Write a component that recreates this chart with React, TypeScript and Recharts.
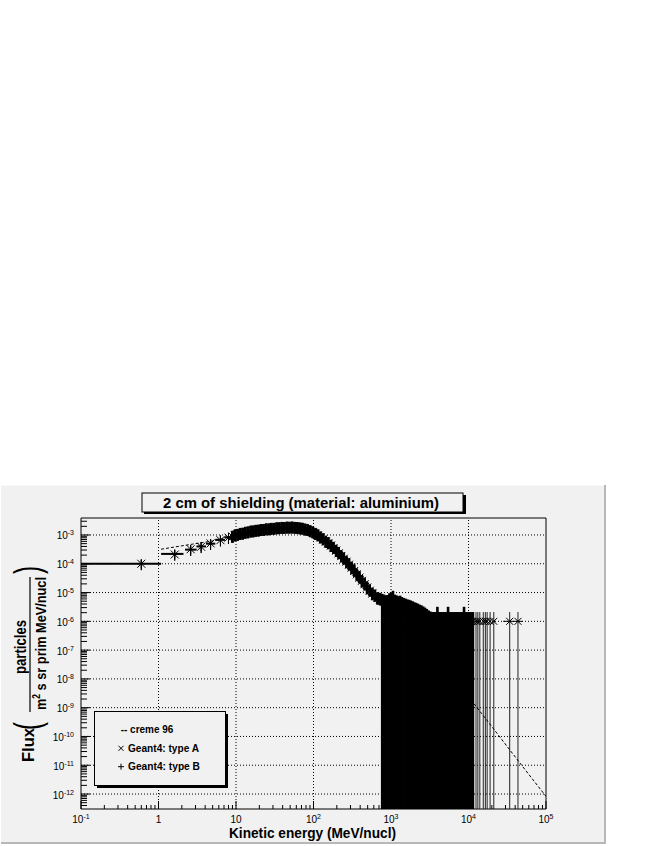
import React from 'react';
import { ComposedChart, Scatter, Line, XAxis, YAxis, ErrorBar, ReferenceLine, ReferenceArea } from 'recharts';

const FONT = "'Liberation Sans', Arial, Helvetica, sans-serif";
const PANEL = '#f1f1f1';

// axis ranges
const X_MIN = 0.1;
const X_MAX = 1e5;
const Y_MIN = Math.pow(10, -12.52);
const Y_MAX = Math.pow(10, -2.41);

const xDecades = [-1, 0, 1, 2, 3, 4, 5];
const yDecades = [-12, -11, -10, -9, -8, -7, -6, -5, -4, -3];

// first wide bins (MeV/nucl): centre, bin edges, flux
const lowE = [0.6, 1.62, 2.6, 3.55, 4.7, 6.3, 8.0];
const lowLo = [0.1, 1.08, 2.2, 3.1, 4.1, 5.4, 7.2];
const lowHi = [1.08, 2.1, 3.1, 4.1, 5.4, 7.2, 8.6];
const lowFluxA = [1.0e-4, 2.1e-4, 3.2e-4, 3.9e-4, 5.1e-4, 6.6e-4, 8.1e-4];
const lowFluxB = [1.0e-4, 2.2e-4, 3.1e-4, 4.0e-4, 5.0e-4, 6.8e-4, 8.3e-4];
const LOW_ERR = 0.4;

// dense part of the spectrum
const bandE = [
  9, 9.7, 10.5, 11.3, 12.2, 13.2, 14.3, 15.5, 16.7, 18, 19.5, 21, 22.7, 24.5, 26.5, 28.6, 30.9, 33.4, 36, 38.9,
  42, 45.4, 49, 53, 57.2, 61.8, 66.7, 72, 77.8, 84, 90.7, 98, 106, 114, 123, 133, 144, 155, 168, 181,
  196, 211, 228, 246, 266, 287, 310, 335, 362, 391, 422, 456, 492, 532, 574, 620, 670, 723,
];
const bandFluxA = [
  8.8e-4, 9.5e-4, 1.02e-3, 1.07e-3, 1.12e-3, 1.18e-3, 1.24e-3, 1.3e-3, 1.34e-3, 1.38e-3, 1.43e-3, 1.47e-3, 1.51e-3, 1.55e-3, 1.58e-3, 1.62e-3, 1.65e-3, 1.69e-3, 1.72e-3, 1.75e-3,
  1.77e-3, 1.79e-3, 1.8e-3, 1.8e-3, 1.78e-3, 1.75e-3, 1.7e-3, 1.64e-3, 1.56e-3, 1.47e-3, 1.36e-3, 1.22e-3, 1.1e-3, 9.6e-4, 8.3e-4, 7.0e-4, 5.9e-4, 5.1e-4, 4.3e-4, 3.5e-4,
  2.85e-4, 2.3e-4, 1.85e-4, 1.5e-4, 1.18e-4, 9.3e-5, 7.3e-5, 5.6e-5, 4.3e-5, 3.3e-5, 2.55e-5, 1.95e-5, 1.5e-5, 1.15e-5, 9.2e-6, 7.6e-6, 6.5e-6, 5.7e-6,
];
const bandFluxB = [
  8.5e-4, 9.8e-4, 1.0e-3, 1.1e-3, 1.1e-3, 1.21e-3, 1.22e-3, 1.33e-3, 1.32e-3, 1.41e-3, 1.41e-3, 1.5e-3, 1.49e-3, 1.58e-3, 1.56e-3, 1.65e-3, 1.63e-3, 1.72e-3, 1.7e-3, 1.78e-3,
  1.75e-3, 1.82e-3, 1.78e-3, 1.83e-3, 1.76e-3, 1.77e-3, 1.68e-3, 1.66e-3, 1.53e-3, 1.49e-3, 1.33e-3, 1.24e-3, 1.07e-3, 9.8e-4, 8.1e-4, 7.2e-4, 5.7e-4, 5.3e-4, 4.1e-4, 3.6e-4,
  2.75e-4, 2.4e-4, 1.78e-4, 1.55e-4, 1.12e-4, 9.7e-5, 6.9e-5, 5.9e-5, 4.0e-5, 3.5e-5, 2.4e-5, 2.05e-5, 1.4e-5, 1.2e-5, 8.6e-6, 8.0e-6, 6.0e-6, 6.1e-6,
];
// multiplicative size of the band error bars
const BAND_ERR = 1.6;

// low-statistics tail: flux and top of the error bar (bottom reaches zero)
const tailE = [
  770, 815, 860, 905, 955, 1005, 1060, 1120, 1180, 1245, 1310, 1380, 1455, 1535, 1620, 1710, 1800, 1900, 2000, 2110,
  2225, 2345, 2470, 2605, 2745, 2895, 3050, 3215, 3390, 3575, 3770, 3970, 4190, 4415, 4650, 4905, 5170, 5450, 5745, 6055,
  6380, 6730, 7090, 7475, 7880, 8310, 8760, 9230, 9730, 10260, 10820, 11400,
];
const tailFlux = [
  5.0e-6, 4.6e-6, 4.3e-6, 4.4e-6, 5.0e-6, 5.3e-6, 5.6e-6, 4.5e-6, 4.2e-6, 4.0e-6, 4.1e-6, 3.7e-6, 3.4e-6, 3.2e-6, 3.0e-6, 2.9e-6, 2.8e-6, 2.6e-6, 2.4e-6, 2.3e-6,
  2.1e-6, 2.0e-6, 1.9e-6, 1.7e-6, 1.6e-6, 1.4e-6, 1.2e-6, 1.1e-6, 1.0e-6, 1.0e-6, 1.0e-6, 1.6e-6, 1.0e-6, 1.0e-6, 1.0e-6, 1.0e-6, 1.0e-6, 1.6e-6, 1.0e-6, 1.0e-6,
  1.0e-6, 1.0e-6, 1.0e-6, 1.0e-6, 1.0e-6, 1.0e-6, 1.6e-6, 1.0e-6, 1.0e-6, 1.0e-6, 1.0e-6, 1.0e-6,
];
const tailTop = [
  9e-6, 8.5e-6, 8e-6, 8.2e-6, 9.5e-6, 1.0e-5, 1.15e-5, 8.5e-6, 8e-6, 7.5e-6, 7.8e-6, 7e-6, 6.5e-6, 6.2e-6, 5.8e-6, 5.6e-6, 5.3e-6, 5e-6, 4.6e-6, 4.4e-6,
  4.1e-6, 3.8e-6, 3.6e-6, 3.3e-6, 3.0e-6, 2.7e-6, 2.4e-6, 2.2e-6, 2.1e-6, 2.1e-6, 2.1e-6, 3.2e-6, 2.1e-6, 2.1e-6, 2.1e-6, 2.1e-6, 2.1e-6, 3.2e-6, 2.1e-6, 2.1e-6,
  2.1e-6, 2.1e-6, 2.1e-6, 2.1e-6, 2.1e-6, 2.1e-6, 3.2e-6, 2.1e-6, 2.1e-6, 2.1e-6, 2.1e-6, 2.1e-6,
];

// single counts above 10 GeV/nucl
const sparseE = [12500, 13200, 14000, 15500, 16500, 17400, 19000, 21200, 34000, 43500];
const sparseLo = [12100, 12800, 13600, 15000, 16000, 16900, 18400, 20500, 28000, 38000];
const sparseHi = [12900, 13600, 14400, 16000, 17000, 17900, 19600, 22000, 38000, 50000];
const sparseFlux = [1e-6, 1e-6, 1e-6, 1e-6, 1e-6, 1e-6, 1e-6, 1e-6, 1e-6, 1e-6];
const sparseTop = [2.1e-6, 2.1e-6, 2.1e-6, 2.1e-6, 2.1e-6, 2.1e-6, 2.1e-6, 2.1e-6, 2.1e-6, 2.1e-6];

// CREME96 model
const cremeE = [1.08, 2, 5, 10, 20, 50, 100, 200, 500, 1000, 2000, 5000, 10000, 20000, 50000, 100000];
const cremeFlux = [3.2e-4, 4.2e-4, 6.2e-4, 9.5e-4, 1.45e-3, 1.8e-3, 1.15e-3, 2.7e-4, 1.4e-5, 1.5e-6, 2.3e-7, 2.6e-8, 2.4e-9, 2.2e-10, 9e-12, 8.3e-13];

const lowA = lowE.map((x, i) => ({ x, y: lowFluxA[i], ey: lowFluxA[i] * LOW_ERR, ex: [x - lowLo[i], lowHi[i] - x] }));
const lowB = lowE.map((x, i) => ({ x, y: lowFluxB[i], ey: lowFluxB[i] * LOW_ERR, ex: [x - lowLo[i], lowHi[i] - x] }));
const bandA = bandE.map((x, i) => ({ x, y: bandFluxA[i], ey: [bandFluxA[i] * (1 - 1 / BAND_ERR), bandFluxA[i] * (BAND_ERR - 1)] }));
const bandB = bandE.map((x, i) => ({ x, y: bandFluxB[i], ey: [bandFluxB[i] * (1 - 1 / BAND_ERR), bandFluxB[i] * (BAND_ERR - 1)] }));
const tail = tailE.map((x, i) => ({ x, y: tailFlux[i], ey: [tailFlux[i] - Y_MIN, tailTop[i] - tailFlux[i]] }));
const sparse = sparseE.map((x, i) => ({
  x,
  y: sparseFlux[i],
  ey: [sparseFlux[i] - Y_MIN, sparseTop[i] - sparseFlux[i]],
  ex: [x - sparseLo[i], sparseHi[i] - x],
}));
const creme = cremeE.map((x, i) => ({ x, y: cremeFlux[i] }));

const xTicks: number[] = [];
xDecades.forEach(d => {
  for (let m = 1; m <= 9; m++) {
    const v = m * Math.pow(10, d);
    if (v >= X_MIN * 0.999 && v <= X_MAX * 1.001) xTicks.push(v);
  }
});
const yTicks: number[] = [];
[-13, ...yDecades].forEach(d => {
  for (let m = 1; m <= 9; m++) {
    const v = m * Math.pow(10, d);
    if (v >= Y_MIN && v <= Y_MAX) yTicks.push(v);
  }
});

const decade = (v: number) => {
  const l = Math.log10(v);
  const e = Math.round(l);
  return { e, major: Math.abs(l - e) < 1e-6 };
};

const XTick = (props: any) => {
  const { x, y, payload } = props;
  const { e, major } = decade(payload.value);
  return (
    <g>
      <line x1={x} x2={x} y1={y} y2={y - (major ? 8 : 4)} stroke="#000" strokeWidth={1} />
      {major && (
        <text x={x} y={y + 13.5} textAnchor="middle" fontFamily={FONT} fontSize={10} fill="#000">
          {e === 0 ? '1' : e === 1 ? '10' : (
            <>
              <tspan>10</tspan>
              <tspan dy={-4} fontSize={7}>{e}</tspan>
            </>
          )}
        </text>
      )}
    </g>
  );
};

const YTick = (props: any) => {
  const { x, y, payload } = props;
  const { e, major } = decade(payload.value);
  return (
    <g>
      <line x1={x} x2={x + (major ? 9 : 6)} y1={y} y2={y} stroke="#000" strokeWidth={1} />
      {major && (
        <text x={x - 7} y={y + 4.5} textAnchor="end" fontFamily={FONT} fontSize={10} fill="#000">
          <tspan>10</tspan>
          <tspan dy={-4} fontSize={7}>{e}</tspan>
        </text>
      )}
    </g>
  );
};

const crossShape = (s: number) => (p: any) => {
  const { cx, cy } = p;
  if (cx == null || cy == null) return <g />;
  return (
    <path d={`M${cx - s},${cy - s}L${cx + s},${cy + s}M${cx - s},${cy + s}L${cx + s},${cy - s}`} stroke="#000" strokeWidth={1} fill="none" />
  );
};
const plusShape = (s: number) => (p: any) => {
  const { cx, cy } = p;
  if (cx == null || cy == null) return <g />;
  return (
    <path d={`M${cx - s},${cy}L${cx + s},${cy}M${cx},${cy - s}L${cx},${cy + s}`} stroke="#000" strokeWidth={1} fill="none" />
  );
};

function YTitle() {
  return (
    <g transform="rotate(-90)" fontFamily={FONT} fill="#000">
      <text x={-745} y={34} textAnchor="middle" fontSize={16} fontWeight="bold" textLength={34} lengthAdjust="spacingAndGlyphs">Flux</text>
      <text x={-726} y={40} textAnchor="middle" fontSize={36} textLength={8} lengthAdjust="spacingAndGlyphs">(</text>
      <text x={-570} y={40} textAnchor="middle" fontSize={36} textLength={8} lengthAdjust="spacingAndGlyphs">)</text>
      <text x={-647} y={26} textAnchor="middle" fontSize={16} fontWeight="bold" textLength={54} lengthAdjust="spacingAndGlyphs">particles</text>
      <text x={-643.5} y={45.5} textAnchor="middle" fontSize={15} fontWeight="bold" textLength={133} lengthAdjust="spacingAndGlyphs">
        m<tspan dy={-6} fontSize={10}>2</tspan><tspan dy={6}> s sr prim MeV/nucl</tspan>
      </text>
      <line x1={-577} x2={-712} y1={30} y2={30} stroke="#000" strokeWidth={1.2} />
    </g>
  );
}

export default function App() {
  return (
    <div style={{ position: 'absolute', left: 0, top: 0, width: 654, height: 846, background: '#fff', overflow: 'hidden' }}>
      <svg width={654} height={846} style={{ position: 'absolute', left: 0, top: 0 }}>
        <rect x={1} y={485} width={604} height={358} fill={PANEL} />
        <line x1={1} x2={605} y1={485.5} y2={485.5} stroke="#fafafa" />
        <line x1={605} x2={605} y1={485} y2={844} stroke="#b8b8b8" strokeWidth={2} />
        <line x1={1} x2={606} y1={843} y2={843} stroke="#b8b8b8" strokeWidth={2} />
      </svg>
      <div style={{ position: 'absolute', left: 0, top: 0 }}>
        <ComposedChart width={654} height={846} margin={{ top: 518, right: 108, bottom: 7, left: 41 }}>
          <XAxis
            type="number"
            dataKey="x"
            scale="log"
            domain={[X_MIN, X_MAX]}
            allowDataOverflow
            ticks={xTicks}
            interval={0}
            tick={XTick}
            tickLine={false}
            axisLine={false}
            tickSize={0}
            tickMargin={0}
            height={30}
          />
          <YAxis
            type="number"
            dataKey="y"
            scale="log"
            domain={[Y_MIN, Y_MAX]}
            allowDataOverflow
            ticks={yTicks}
            interval={0}
            tick={YTick}
            tickLine={false}
            axisLine={false}
            tickSize={0}
            tickMargin={0}
            width={40}
          />
          {xDecades.slice(1, -1).map(d => (
            <ReferenceLine key={`gx${d}`} x={Math.pow(10, d)} stroke="#000" strokeDasharray="1 2" />
          ))}
          {yDecades.map(d => (
            <ReferenceLine key={`gy${d}`} y={Math.pow(10, d)} stroke="#000" strokeDasharray="1 2" />
          ))}

          <Scatter data={tail} shape={crossShape(3.5)} isAnimationActive={false}>
            <ErrorBar dataKey="ey" direction="y" width={0} stroke="#000" strokeWidth={2.6} isAnimationActive={false} />
          </Scatter>
          <Scatter data={sparse} shape={crossShape(3.5)} isAnimationActive={false}>
            <ErrorBar dataKey="ey" direction="y" width={0} stroke="#222" strokeWidth={1} isAnimationActive={false} />
            <ErrorBar dataKey="ex" direction="x" width={0} stroke="#000" strokeWidth={1} isAnimationActive={false} />
          </Scatter>
          <Scatter data={bandB} shape={plusShape(4.5)} isAnimationActive={false}>
            <ErrorBar dataKey="ey" direction="y" width={0} stroke="#000" strokeWidth={2.5} isAnimationActive={false} />
          </Scatter>
          <Scatter data={bandA} shape={crossShape(4)} isAnimationActive={false}>
            <ErrorBar dataKey="ey" direction="y" width={0} stroke="#000" strokeWidth={2.5} isAnimationActive={false} />
          </Scatter>
          <Scatter data={lowB} shape={plusShape(4.5)} isAnimationActive={false}>
            <ErrorBar dataKey="ey" direction="y" width={0} stroke="#000" strokeWidth={1} isAnimationActive={false} />
            <ErrorBar dataKey="ex" direction="x" width={0} stroke="#000" strokeWidth={2} isAnimationActive={false} />
          </Scatter>
          <Scatter data={lowA} shape={crossShape(4)} isAnimationActive={false}>
            <ErrorBar dataKey="ey" direction="y" width={0} stroke="#000" strokeWidth={1} isAnimationActive={false} />
          </Scatter>
          <Line data={creme} dataKey="y" type="linear" stroke="#000" strokeWidth={1} strokeDasharray="3 2" dot={false} isAnimationActive={false} />
          <ReferenceArea x1={X_MIN} x2={X_MAX} y1={Y_MIN} y2={Y_MAX} fill="none" stroke="#000" strokeWidth={1} ifOverflow="visible" />
        </ComposedChart>
      </div>
      <svg width={654} height={846} style={{ position: 'absolute', left: 0, top: 0, pointerEvents: 'none' }}>
        {/* title box */}
        <rect x={144} y={495} width={322} height={19} fill="#000" />
        <rect x={142} y={493} width={321} height={19} fill={PANEL} stroke="#000" strokeWidth={1} />
        <text x={301} y={507.5} textAnchor="middle" fontFamily={FONT} fontSize={15.5} fontWeight="bold" textLength={276} lengthAdjust="spacingAndGlyphs">
          2 cm of shielding (material: aluminium)
        </text>

        {/* legend */}
        <rect x={97} y={714} width={131} height={74} fill="#000" />
        <rect x={94.5} y={711.5} width={131} height={74} fill={PANEL} stroke="#000" strokeWidth={1} />
        <text x={120.7} y={733.3} fontFamily={FONT} fontSize={11} fontWeight="bold" textLength={52.6} lengthAdjust="spacingAndGlyphs">-- creme 96</text>
        <path d="M118.5,745.8L123.5,750.8M118.5,750.8L123.5,745.8" stroke="#000" strokeWidth={1} />
        <text x={128} y={751.7} fontFamily={FONT} fontSize={11} fontWeight="bold" textLength={71} lengthAdjust="spacingAndGlyphs">Geant4: type A</text>
        <path d="M118,766.7L124,766.7M121,763.7L121,769.7" stroke="#000" strokeWidth={1} />
        <text x={128} y={770} fontFamily={FONT} fontSize={11} fontWeight="bold" textLength={72} lengthAdjust="spacingAndGlyphs">Geant4: type B</text>

        {/* axis titles */}
        <text x={312.5} y={838} textAnchor="middle" fontFamily={FONT} fontSize={14} fontWeight="bold" textLength={167} lengthAdjust="spacingAndGlyphs">
          Kinetic energy (MeV/nucl)
        </text>
        <YTitle />
      </svg>
    </div>
  );
}
